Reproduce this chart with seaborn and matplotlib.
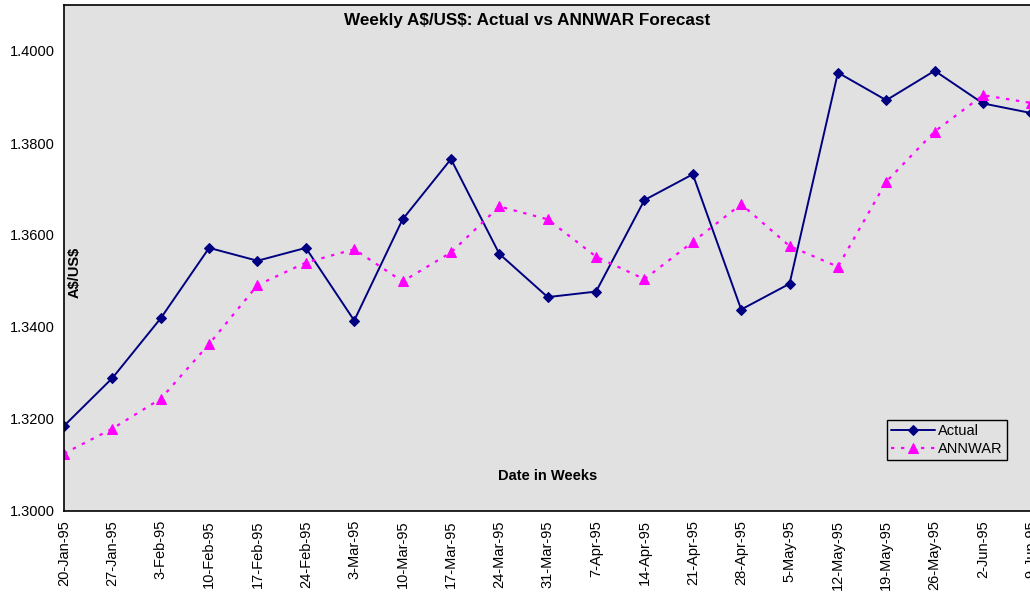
import pandas as pd
import seaborn as sns
import matplotlib.pyplot as plt

# Weekly A$/US$ values
dates = ["20-Jan-95", "27-Jan-95", "3-Feb-95", "10-Feb-95", "17-Feb-95", "24-Feb-95",
         "3-Mar-95", "10-Mar-95", "17-Mar-95", "24-Mar-95", "31-Mar-95", "7-Apr-95",
         "14-Apr-95", "21-Apr-95", "28-Apr-95", "5-May-95", "12-May-95", "19-May-95",
         "26-May-95", "2-Jun-95", "9-Jun-95"]

actual = [1.3185, 1.3289, 1.3419, 1.3572, 1.3544, 1.3572, 1.3414, 1.3634, 1.3765,
          1.3559, 1.3465, 1.3477, 1.3676, 1.3732, 1.3438, 1.3494, 1.3953, 1.3893,
          1.3957, 1.3886, 1.3865]

annwar = [1.3125, 1.3179, 1.3244, 1.3363, 1.3491, 1.3540, 1.3569, 1.3499, 1.3562,
          1.3662, 1.3634, 1.3553, 1.3504, 1.3585, 1.3667, 1.3576, 1.3531, 1.3716,
          1.3825, 1.3904, 1.3887]

y_ticks = [1.30, 1.32, 1.34, 1.36, 1.38, 1.40]

df = pd.DataFrame({"week": range(len(dates)), "Actual": actual, "ANNWAR": annwar})

sns.set_style("white", {"axes.facecolor": "#E1E1E1", "axes.edgecolor": "black",
                        "text.color": "black", "xtick.color": "black",
                        "ytick.color": "black"})
plt.rcParams["font.family"] = ["Liberation Sans", "DejaVu Sans"]
plt.rcParams["text.parse_math"] = False

fig = plt.figure(figsize=(10.30, 5.93), dpi=100)
# axes run past the right edge, so the last week is cut off as in the original
ax = fig.add_axes([64 / 1030, 1 - 511 / 593, 21 * 48.37 / 1030, 506 / 593])

sns.lineplot(data=df, x="week", y="Actual", ax=ax, color="#000080", linewidth=1.4,
             marker="D", markersize=5.5, markeredgecolor="#000080", label="Actual")
sns.lineplot(data=df, x="week", y="ANNWAR", ax=ax, color="#FF00FF", linewidth=1.6,
             linestyle=(0, (1.5, 3)), marker="^", markersize=7,
             markeredgecolor="#FF00FF", label="ANNWAR")

ax.set_xlim(0, 21)
ax.set_ylim(1.30, 1.41)
ax.set_xticks(df["week"])
ax.set_xticklabels(dates, rotation=90, fontsize=10.5, color="black")
ax.set_yticks(y_ticks)
ax.set_yticklabels([f"{v:.4f}" for v in y_ticks], fontsize=10.5, color="black")
ax.tick_params(direction="inout", length=7, width=1, color="black", pad=3)
ax.set_xlabel("")
ax.set_ylabel("")
for side in ["left", "bottom", "top"]:
    ax.spines[side].set_linewidth(1.2)
ax.spines["right"].set_visible(False)

ax.text(0.4557, 0.970, "Weekly A$/US$: Actual vs ANNWAR Forecast", transform=ax.transAxes,
        ha="center", va="center", fontsize=12.3, fontweight="bold", color="black")
ax.text(0.0108, 0.472, "A$/US$", transform=ax.transAxes, rotation=90,
        ha="center", va="center", fontsize=10.5, fontweight="bold", color="black")
ax.text(0.4764, 0.069, "Date in Weeks", transform=ax.transAxes,
        ha="center", va="center", fontsize=10.5, fontweight="bold", color="black")

leg = ax.legend(loc="lower left", bbox_to_anchor=(0.81, 0.10), borderaxespad=0,
                fontsize=10.5, frameon=True, fancybox=False, framealpha=1,
                edgecolor="black", handlelength=3.0, handletextpad=0.2,
                borderpad=0.3, labelspacing=0.25)
leg.get_frame().set_linewidth(1)
for t in leg.get_texts():
    t.set_color("black")

fig.savefig("out.png", dpi=100)
